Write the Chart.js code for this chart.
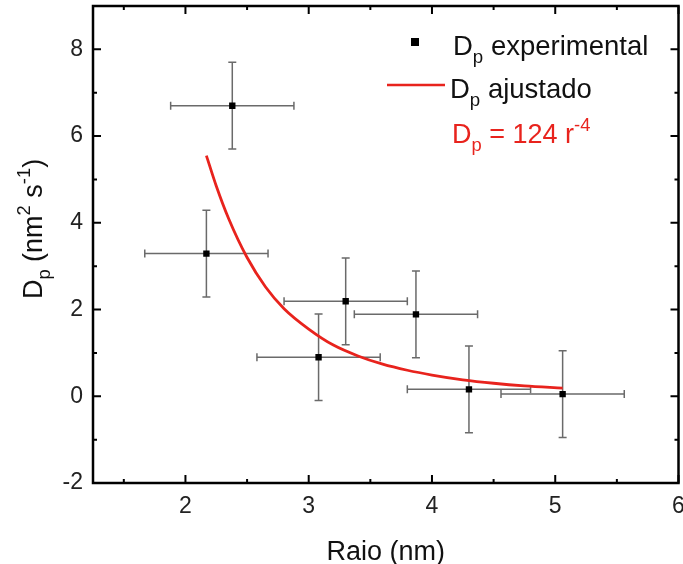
<!DOCTYPE html>
<html>
<head>
<meta charset="utf-8">
<script src="https://cdn.jsdelivr.net/npm/chart.js@4.4.0/dist/chart.umd.min.js"></script>
<style>
  html, body { margin: 0; padding: 0; background: #fff; }
</style>
</head>
<body>
<canvas id="chart" width="683" height="564"></canvas>
<script>
// Experimental points (radius in nm, Dp in nm^2 s^-1) with error bars
var raio = [2.17, 2.38, 3.08, 3.30, 3.87, 4.30, 5.06];
var dp = [3.29, 6.70, 0.90, 2.19, 1.89, 0.16, 0.05];
var raioErr = [0.5, 0.5, 0.5, 0.5, 0.5, 0.5, 0.5];
var dpErr = [1.0, 1.0, 1.0, 1.0, 1.0, 1.0, 1.0];

// Fitted curve
var fitRaio = [2.17, 2.25, 2.35, 2.5, 2.65, 2.8, 3.0, 3.2, 3.4, 3.6, 3.8, 4.0, 4.25, 4.5, 4.75, 5.06];
var fitDp = [5.55, 4.85, 4.10, 3.20, 2.52, 2.02, 1.55, 1.18, 0.93, 0.74, 0.60, 0.49, 0.38, 0.30, 0.24, 0.19];

// Axes
var xTicks = [2, 3, 4, 5, 6];
var xMinor = [1.5, 2.5, 3.5, 4.5, 5.5];
var yTicks = [-2, 0, 2, 4, 6, 8];
var yMinor = [-1, 1, 3, 5, 7];

var FONT = '"Liberation Sans", Arial, sans-serif';
var RED = '#e8231d';

// Draw text with subscripts / superscripts, returns end x
function drawRich(ctx, parts, x, y, size, color) {
    ctx.fillStyle = color;
    ctx.textBaseline = 'alphabetic';
    ctx.textAlign = 'left';
    parts.forEach(function (p) {
        var s = size, dy = 0;
        if (p[1] === 'sub') { s = size * 0.68; dy = size * 0.28; }
        if (p[1] === 'sup') { s = size * 0.68; dy = -size * 0.45; }
        ctx.font = s + 'px ' + FONT;
        ctx.fillText(p[0], x, y + dy);
        x += ctx.measureText(p[0]).width;
    });
    return x;
}

function richWidth(ctx, parts, size) {
    var w = 0;
    parts.forEach(function (p) {
        var s = (p[1] === '') ? size : size * 0.68;
        ctx.font = s + 'px ' + FONT;
        w += ctx.measureText(p[0]).width;
    });
    return w;
}

var decorations = {
    id: 'decorations',
    beforeDatasetsDraw: function (chart) {
        var ctx = chart.ctx;
        var xs = chart.scales.x, ys = chart.scales.y;
        ctx.save();
        ctx.strokeStyle = '#6a6a6a';
        ctx.lineWidth = 1.5;
        var cap = 4;
        for (var i = 0; i < raio.length; i++) {
            var px = xs.getPixelForValue(raio[i]);
            var py = ys.getPixelForValue(dp[i]);
            var x1 = xs.getPixelForValue(raio[i] - raioErr[i]);
            var x2 = xs.getPixelForValue(raio[i] + raioErr[i]);
            var y1 = ys.getPixelForValue(dp[i] + dpErr[i]);
            var y2 = ys.getPixelForValue(dp[i] - dpErr[i]);
            ctx.beginPath();
            ctx.moveTo(x1, py); ctx.lineTo(x2, py);
            ctx.moveTo(x1, py - cap); ctx.lineTo(x1, py + cap);
            ctx.moveTo(x2, py - cap); ctx.lineTo(x2, py + cap);
            ctx.moveTo(px, y1); ctx.lineTo(px, y2);
            ctx.moveTo(px - cap, y1); ctx.lineTo(px + cap, y1);
            ctx.moveTo(px - cap, y2); ctx.lineTo(px + cap, y2);
            ctx.stroke();
        }
        ctx.restore();
    },
    afterDraw: function (chart) {
        var ctx = chart.ctx;
        var a = chart.chartArea;
        var xs = chart.scales.x, ys = chart.scales.y;
        ctx.save();

        // frame
        ctx.strokeStyle = '#000';
        ctx.lineWidth = 2.5;
        ctx.strokeRect(a.left, a.top, a.right - a.left, a.bottom - a.top);

        // inward ticks on all sides
        ctx.lineWidth = 2;
        ctx.beginPath();
        function xTick(v, len) {
            var p = xs.getPixelForValue(v);
            ctx.moveTo(p, a.bottom); ctx.lineTo(p, a.bottom - len);
            ctx.moveTo(p, a.top); ctx.lineTo(p, a.top + len);
        }
        function yTick(v, len) {
            var p = ys.getPixelForValue(v);
            ctx.moveTo(a.left, p); ctx.lineTo(a.left + len, p);
            ctx.moveTo(a.right, p); ctx.lineTo(a.right - len, p);
        }
        xTicks.forEach(function (v) { xTick(v, 8); });
        xMinor.forEach(function (v) { xTick(v, 4); });
        yTicks.forEach(function (v) { yTick(v, 8); });
        yMinor.forEach(function (v) { yTick(v, 4); });
        ctx.stroke();

        // legend
        ctx.fillStyle = '#000';
        ctx.fillRect(411, 38, 8, 8);
        drawRich(ctx, [['D', ''], ['p', 'sub'], [' experimental', '']], 453, 55, 27.5, '#111');
        ctx.strokeStyle = RED;
        ctx.lineWidth = 2.5;
        ctx.beginPath();
        ctx.moveTo(387, 85); ctx.lineTo(445, 85);
        ctx.stroke();
        drawRich(ctx, [['D', ''], ['p', 'sub'], [' ajustado', '']], 450, 98, 27.5, '#111');
        drawRich(ctx, [['D', ''], ['p', 'sub'], [' = 124 r', ''], ['-4', 'sup']], 452, 143, 27, RED);

        // x title
        ctx.font = '27px ' + FONT;
        ctx.fillStyle = '#111';
        ctx.textAlign = 'center';
        ctx.textBaseline = 'alphabetic';
        ctx.fillText('Raio (nm)', (a.left + a.right) / 2, 560);

        // y title
        var yParts = [['D', ''], ['p', 'sub'], [' (nm', ''], ['2', 'sup'], [' s', ''], ['-1', 'sup'], [')', '']];
        var w = richWidth(ctx, yParts, 27);
        ctx.translate(42, 229);
        ctx.rotate(-Math.PI / 2);
        drawRich(ctx, yParts, -w / 2, 0, 27, '#111');

        ctx.restore();
    }
};

new Chart(document.getElementById('chart').getContext('2d'), {
    data: {
        datasets: [
            {
                type: 'line',
                label: 'Dp ajustado',
                data: fitRaio.map(function (x, i) { return { x: x, y: fitDp[i] }; }),
                borderColor: RED,
                borderWidth: 2.8,
                pointRadius: 0,
                fill: false,
                cubicInterpolationMode: 'monotone'
            },
            {
                type: 'scatter',
                label: 'Dp experimental',
                data: raio.map(function (x, i) { return { x: x, y: dp[i] }; }),
                pointStyle: 'rect',
                pointRadius: 4.5,
                backgroundColor: '#000',
                borderColor: '#000',
                borderWidth: 0
            }
        ]
    },
    options: {
        responsive: false,
        animation: false,
        layout: { padding: { left: 0, right: 4, top: 6, bottom: 0 } },
        plugins: {
            legend: { display: false },
            tooltip: { enabled: false }
        },
        scales: {
            x: {
                type: 'linear',
                min: 1.25,
                max: 6,
                grid: { display: false, drawTicks: false },
                border: { display: false },
                afterBuildTicks: function (scale) {
                    scale.ticks = xTicks.map(function (v) { return { value: v }; });
                },
                afterFit: function (scale) {
                    scale.height = 81;
                    scale.paddingLeft = 0;
                    scale.paddingRight = 0;
                },
                ticks: {
                    padding: 10,
                    maxRotation: 0,
                    color: '#222',
                    font: { family: FONT, size: 23 }
                }
            },
            y: {
                type: 'linear',
                min: -2,
                max: 9,
                grid: { display: false, drawTicks: false },
                border: { display: false },
                afterBuildTicks: function (scale) {
                    scale.ticks = yTicks.map(function (v) { return { value: v }; });
                },
                afterFit: function (scale) {
                    scale.width = 93;
                    scale.paddingTop = 0;
                    scale.paddingBottom = 0;
                },
                ticks: {
                    padding: 10,
                    color: '#222',
                    font: { family: FONT, size: 23 }
                }
            }
        }
    },
    plugins: [decorations]
});
</script>
</body>
</html>
